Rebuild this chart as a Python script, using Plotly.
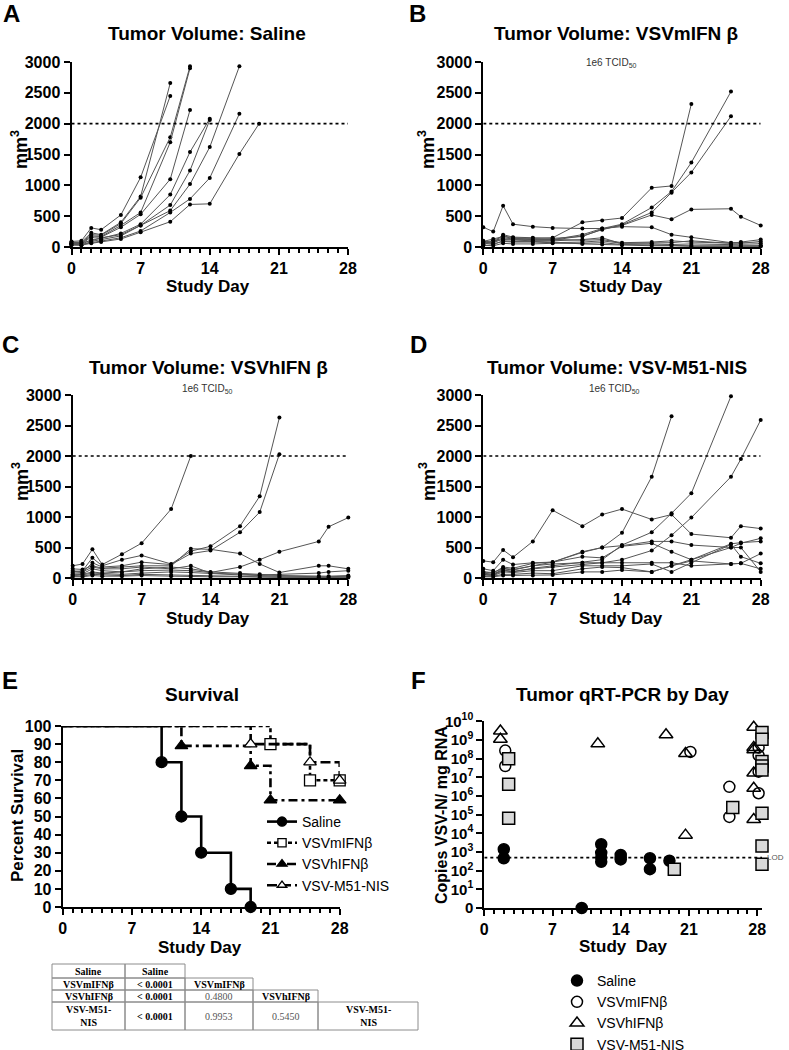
import plotly.graph_objects as go

W, H = 789, 1050
FONT = "Liberation Sans"
SERIF = "Liberation Serif"

# ---------------- data ----------------
tv_days = [0, 1, 2, 3, 5, 7, 10, 12, 14, 17, 19, 21, 25, 26, 28]
endpoint_mm3 = 2000

saline_mice = [
    [90, 100, 310, 280, 520, 1130, 2450],
    [70, 80, 230, 200, 400, 820, 2660],
    [60, 70, 200, 190, 380, 800, 1780, 2930],
    [50, 60, 180, 170, 350, 560, 1700, 2900],
    [80, 50, 160, 160, 320, 530, 1100, 2220],
    [40, 40, 120, 140, 220, 370, 850, 1540, 2080],
    [60, 70, 100, 150, 200, 350, 680, 1240, 2060],
    [30, 30, 90, 120, 180, 350, 590, 1020, 1620, 2930],
    [50, 40, 70, 100, 150, 260, 560, 780, 1120, 2160],
    [40, 30, 60, 80, 130, 240, 410, 690, 700, 1510, 2000],
]

mifn_mice = [
    [320, 250, 670, 370, 330, 310, 300, 300, 330, 320, 200, 160, 70, 70, 60],
    [80, 100, 180, 150, 140, 150, 400, 430, 470, 960, 990, 2320],
    [60, 90, 150, 130, 120, 120, 200, 300, 370, 640, 900, 1370, 2520],
    [50, 70, 130, 120, 110, 110, 180, 280, 360, 560, 880, 1210, 2120],
    [70, 60, 200, 160, 150, 140, 170, 290, 350, 520, 450, 610, 620, 490, 350],
    [40, 100, 120, 110, 100, 100, 120, 150, 50, 50, 40, 50, 40, 30, 30],
    [100, 50, 90, 80, 80, 70, 80, 100, 60, 60, 70, 100, 60, 80, 120],
    [30, 20, 60, 50, 50, 60, 60, 70, 40, 30, 30, 20, 20, 10, 10],
    [90, 130, 170, 140, 130, 120, 110, 120, 70, 80, 100, 80, 60, 60, 90],
    [20, 40, 100, 90, 90, 80, 50, 40, 30, 20, 20, 10, 10, 20, 20],
]

hifn_mice = [
    [200, 230, 470, 220, 390, 570, 1130, 2000],
    [100, 120, 330, 200, 300, 370, 230, 440, 520, 850, 1340, 2630],
    [80, 90, 250, 180, 200, 260, 220, 400, 450, 750, 1080, 2030],
    [60, 70, 150, 120, 100, 120, 130, 120, 90, 180, 300, 430, 600, 840, 990],
    [150, 140, 200, 160, 180, 200, 200, 480, 470, 400, 230, 90, 200, 200, 150],
    [50, 60, 100, 80, 100, 150, 180, 150, 100, 80, 60, 40, 30, 30, 40],
    [40, 50, 80, 70, 60, 80, 100, 90, 70, 50, 40, 30, 20, 20, 30],
    [30, 30, 60, 50, 40, 60, 50, 40, 30, 30, 20, 20, 10, 10, 20],
    [120, 100, 180, 150, 150, 180, 150, 200, 80, 60, 50, 60, 80, 100, 120],
    [20, 20, 40, 30, 30, 40, 30, 20, 20, 20, 10, 10, 10, 10, 10],
]

m51_mice = [
    [100, 90, 160, 140, 200, 260, 420, 500, 740, 1660, 2650],
    [60, 50, 120, 100, 160, 200, 250, 300, 540, 750, 1060, 1390, 2980],
    [70, 60, 130, 110, 150, 180, 220, 250, 300, 450, 700, 990, 1660, 1950, 2590],
    [150, 120, 300, 220, 250, 260, 430, 500, 530, 600, 600, 540, 500, 570, 650],
    [280, 260, 460, 340, 600, 1110, 850, 1040, 1130, 960, 1040, 720, 660, 850, 810],
    [100, 80, 180, 160, 240, 260, 350, 330, 520, 570, 430, 300, 560, 580, 600],
    [80, 60, 150, 130, 200, 230, 250, 250, 250, 250, 250, 200, 230, 240, 400],
    [50, 40, 100, 90, 120, 120, 200, 200, 200, 230, 100, 250, 550, 350, 240],
    [30, 30, 60, 60, 80, 70, 150, 180, 170, 100, 200, 300, 500, 500, 100],
    [20, 20, 40, 40, 40, 50, 100, 100, 130, 100, 200, 280, 230, 240, 150],
]

# survival (percent)
surv_saline_days = [0, 10, 12, 14, 17, 19]
surv_saline = [100, 80, 50, 30, 10, 0]
surv_mifn_days = [0, 21, 25, 28]
surv_mifn = [100, 90, 70, 70]
surv_hifn_days = [0, 12, 19, 21, 28]
surv_hifn = [100, 89, 78, 59, 59]
surv_m51_days = [0, 19, 25, 28]
surv_m51 = [100, 90, 80, 70]

# qRT-PCR copies VSV-N / mg RNA
pcr_saline_days = [2, 2, 10, 12, 12, 12, 12, 14, 14, 14, 17, 17, 19]
pcr_saline = [1.4e3, 4.6e2, 0, 2.6e3, 9e2, 5e2, 3e2, 7e2, 5e2, 4e2, 4.6e2, 1.2e2, 3.4e2]
pcr_mifn_days = [2, 2, 21, 25, 25, 28, 28, 28, 28]
pcr_mifn = [2.7e8, 4e7, 2.3e8, 3.1e6, 7.6e4, 4e8, 1.5e8, 2e7, 1.4e6]
pcr_hifn_days = [2, 2, 12, 19, 21, 21, 28, 28, 28, 28, 28, 28]
pcr_hifn = [3e9, 1.1e9, 6.2e8, 1.9e9, 1.9e8, 8e3, 4.8e9, 4e8, 3e8, 1.7e7, 2.6e6, 5.5e4]
pcr_m51_days = [2, 2, 2, 19, 25, 28, 28, 28, 28, 28, 28, 28, 28]
pcr_m51 = [1e8, 4.3e6, 6.5e4, 1.2e2, 2.4e5, 2.5e9, 1.1e9, 7e7, 4e7, 2.5e7, 1.2e5, 2.1e3, 2.2e2]
lod_copies = 500

# log-rank table
table_labels = ["Saline", "VSVmIFNβ", "VSVhIFNβ", "VSV-M51-NIS"]
table_pvals = [[], ["< 0.0001"], ["< 0.0001", "0.4800"], ["< 0.0001", "0.9953", "0.5450"]]

# ---------------- layout helpers (page pixels -> paper fractions) ----------------
def px(x):
    return x / W

def py(y):
    return 1 - y / H

def xd(a, b):
    return [px(a), px(b)]

def yd(top, bottom):
    return [py(bottom), py(top)]

fig = go.Figure()

AX = dict(showline=True, linecolor="black", linewidth=2, showgrid=False, zeroline=False,
          automargin=False, ticks="outside", ticklen=6, tickwidth=2, tickcolor="black",
          tickfont=dict(family=FONT, size=16, color="black", weight="bold"))
MINOR = dict(dtick=1, tick0=0, ticks="outside", ticklen=4, tickwidth=1.5, tickcolor="black")

panels_tv = [
    ("x", "y", saline_mice, xd(71.5, 348), yd(62, 247)),
    ("x2", "y2", mifn_mice, xd(483.3, 760.7), yd(62, 247)),
    ("x3", "y3", hifn_mice, xd(72.7, 348.3), yd(395, 578)),
    ("x4", "y4", m51_mice, xd(483.3, 760.7), yd(395, 578)),
]

layout_axes = {}
for i, (xa, ya, mice, xdom, ydom) in enumerate(panels_tv):
    n = "" if i == 0 else str(i + 1)
    layout_axes["xaxis" + n] = dict(AX, domain=xdom, anchor=ya, range=[0, 28],
                                    tickvals=[0, 7, 14, 21, 28], minor=MINOR)
    layout_axes["yaxis" + n] = dict(AX, domain=ydom, anchor=xa, range=[0, 3000],
                                    tickvals=[0, 500, 1000, 1500, 2000, 2500, 3000])
    for vals in mice:
        fig.add_trace(go.Scatter(x=tv_days[:len(vals)], y=vals, mode="lines+markers",
                                 line=dict(color="#555555", width=1),
                                 marker=dict(color="black", size=4),
                                 xaxis=xa, yaxis=ya, showlegend=False, cliponaxis=False,
                                 hoverinfo="skip"))
    fig.add_shape(type="line", xref=xa, yref=ya, x0=0, x1=28, y0=endpoint_mm3, y1=endpoint_mm3,
                  line=dict(color="black", width=1.6, dash="dot"))

# Survival panel E
layout_axes["xaxis5"] = dict(AX, domain=xd(62.7, 339.7), anchor="y5", range=[0, 28],
                             tickvals=[0, 7, 14, 21, 28], minor=MINOR)
layout_axes["yaxis5"] = dict(AX, domain=yd(726, 907), anchor="x5", range=[0, 100],
                             tickvals=list(range(0, 101, 10)))

surv_series = [
    ("Saline", surv_saline_days, surv_saline, "solid", "circle", "black"),
    ("VSVmIFNβ", surv_mifn_days, surv_mifn, "4px,3px", "square", "white"),
    ("VSVhIFNβ", surv_hifn_days, surv_hifn, "9px,4px,3px,4px", "triangle-up", "black"),
    ("VSV-M51-NIS", surv_m51_days, surv_m51, "10px,4px", "triangle-up", "white"),
]
for name, d, v, dash, sym, fill in surv_series:
    sizes = [0] + [11] * (len(d) - 1)
    fig.add_trace(go.Scatter(x=d, y=v, mode="lines+markers", name=name, line_shape="hv",
                             line=dict(color="black", width=2.6, dash=dash),
                             marker=dict(symbol=sym, size=sizes, color=fill, opacity=1,
                                         line=dict(color="black", width=1.3)),
                             xaxis="x5", yaxis="y5", legend="legend", cliponaxis=False))

# qRT-PCR panel F
layout_axes["xaxis6"] = dict(AX, domain=xd(484.3, 762), anchor="y6", range=[0, 28.5],
                             tickvals=[0, 7, 14, 21, 28], minor=MINOR)
dec = [10 ** k for k in range(0, 11)]
dec_txt = ["0"] + ["10<sup>%d</sup>" % k for k in range(1, 11)]
layout_axes["yaxis6"] = dict(AX, domain=yd(721.3, 908), anchor="x6", type="log", range=[0, 10],
                             tickvals=dec, ticktext=dec_txt,
                             tickfont=dict(family=FONT, size=15, color="black", weight="bold"))

pcr_series = [
    ("Saline", pcr_saline_days, pcr_saline, 0.0, "circle", "black", 11),
    ("VSVmIFNβ", pcr_mifn_days, pcr_mifn, 0.15, "circle-open", "black", 11),
    ("VSVhIFNβ", pcr_hifn_days, pcr_hifn, -0.35, "triangle-up-open", "black", 12),
    ("VSV-M51-NIS", pcr_m51_days, pcr_m51, 0.5, "square", "#d9d9d9", 12),
]
for name, d, v, shift, sym, fill, size in pcr_series:
    xs = [di + shift for di in d]
    ys = [vi if vi > 0 else 1 for vi in v]  # zero plotted on the "0" baseline
    fig.add_trace(go.Scatter(x=xs, y=ys, mode="markers", name=name,
                             marker=dict(symbol=sym, size=size, color=fill, opacity=1,
                                         line=dict(color="black", width=1.5)),
                             xaxis="x6", yaxis="y6", legend="legend2", cliponaxis=False))
fig.add_shape(type="line", xref="x6", yref="y6", x0=0, x1=28.5, y0=lod_copies, y1=lod_copies,
              line=dict(color="black", width=1.6, dash="dot"))

annotations = []

def text(x, y, s, size=17, bold=True, angle=0, color="black", family=FONT, xanchor="center"):
    annotations.append(dict(x=px(x), y=py(y), xref="paper", yref="paper", text=s,
                            showarrow=False, textangle=angle, xanchor=xanchor, yanchor="middle",
                            font=dict(family=family, size=size, color=color,
                                      weight="bold" if bold else "normal")))

annotations.append(dict(x=28.5, y=2.72, xref="x6", yref="y6", text="LOD", showarrow=False,
                        xanchor="left", yanchor="middle", xshift=3,
                        font=dict(family=FONT, size=8, color="#555555")))

# panel letters
for lt, x, y in [("A", 11, 13), ("B", 417, 13), ("C", 10, 345), ("D", 418, 345),
                 ("E", 10, 680), ("F", 418, 680)]:
    text(x, y, lt, size=24)

# titles
text(207, 33, "Tumor Volume: Saline", size=19)
text(616, 33, "Tumor Volume: VSVmIFN β", size=19)
text(208, 367, "Tumor Volume: VSVhIFN β", size=19)
text(617, 367, "Tumor Volume: VSV-M51-NIS", size=19)
text(202, 694, "Survival", size=19)
text(622, 694, "Tumor qRT-PCR by Day", size=19)
for x, y in [(611, 63), (207, 389), (614, 389)]:
    text(x, y, "1e6 TCID<sub>50</sub>", size=10, bold=False, color="#333333")

# axis titles
for x, y in [(208, 286), (621, 286), (208, 618), (621, 618), (200, 947)]:
    text(x, y, "Study Day", size=17)
text(623, 946, "Study\u00a0\u00a0Day", size=17)
for x, y in [(20, 150), (427, 150), (20, 482), (427, 482)]:
    text(x, y, "mm<sup>3</sup>", size=18, angle=-90)
text(17, 816, "Percent Survival", size=17, angle=-90)
text(441, 815, "Copies VSV-N/ mg RNA", size=16, angle=-90)

# log-rank comparison table
col_edges = [52, 125, 185, 253, 318, 418]
row_edges = [964, 978, 990, 1002, 1030]
shapes = []
for r, lab in enumerate(table_labels):
    cells = [lab] + table_pvals[r] + [lab]
    for c, cell in enumerate(cells):
        x0, x1 = col_edges[c], col_edges[c + 1]
        y0, y1 = row_edges[r], row_edges[r + 1]
        shapes.append(dict(type="rect", xref="paper", yref="paper", x0=px(x0), x1=px(x1),
                           y0=py(y1), y1=py(y0), line=dict(color="#8c8c8c", width=1)))
        s = cell.replace("VSV-M51-NIS", "VSV-M51-<br>NIS")
        is_plain = cell[0].isdigit()
        text((x0 + x1) / 2, (y0 + y1) / 2, s, size=10, bold=not is_plain,
             color="#555555" if is_plain else "black", family=SERIF)

for sh in shapes:
    fig.add_shape(**sh)

fig.update_layout(
    width=W, height=H, margin=dict(l=0, r=0, t=0, b=0, autoexpand=False),
    paper_bgcolor="white", plot_bgcolor="white",
    font=dict(family=FONT, color="black"),
    annotations=annotations,
    legend=dict(x=px(262), y=py(806), xanchor="left", yanchor="top",
                font=dict(family=FONT, size=14, color="black"), bgcolor="rgba(0,0,0,0)",
                itemwidth=30),
    legend2=dict(x=px(557), y=py(965), xanchor="left", yanchor="top",
                 font=dict(family=FONT, size=14, color="black"), bgcolor="rgba(0,0,0,0)",
                 itemwidth=30, maxheight=140),
    **layout_axes,
)

# place the figure flush with the page corner (no default body margin)
fig.write_html("out.html", config={"displayModeBar": False},
               post_script="document.body.style.margin='0px';")
